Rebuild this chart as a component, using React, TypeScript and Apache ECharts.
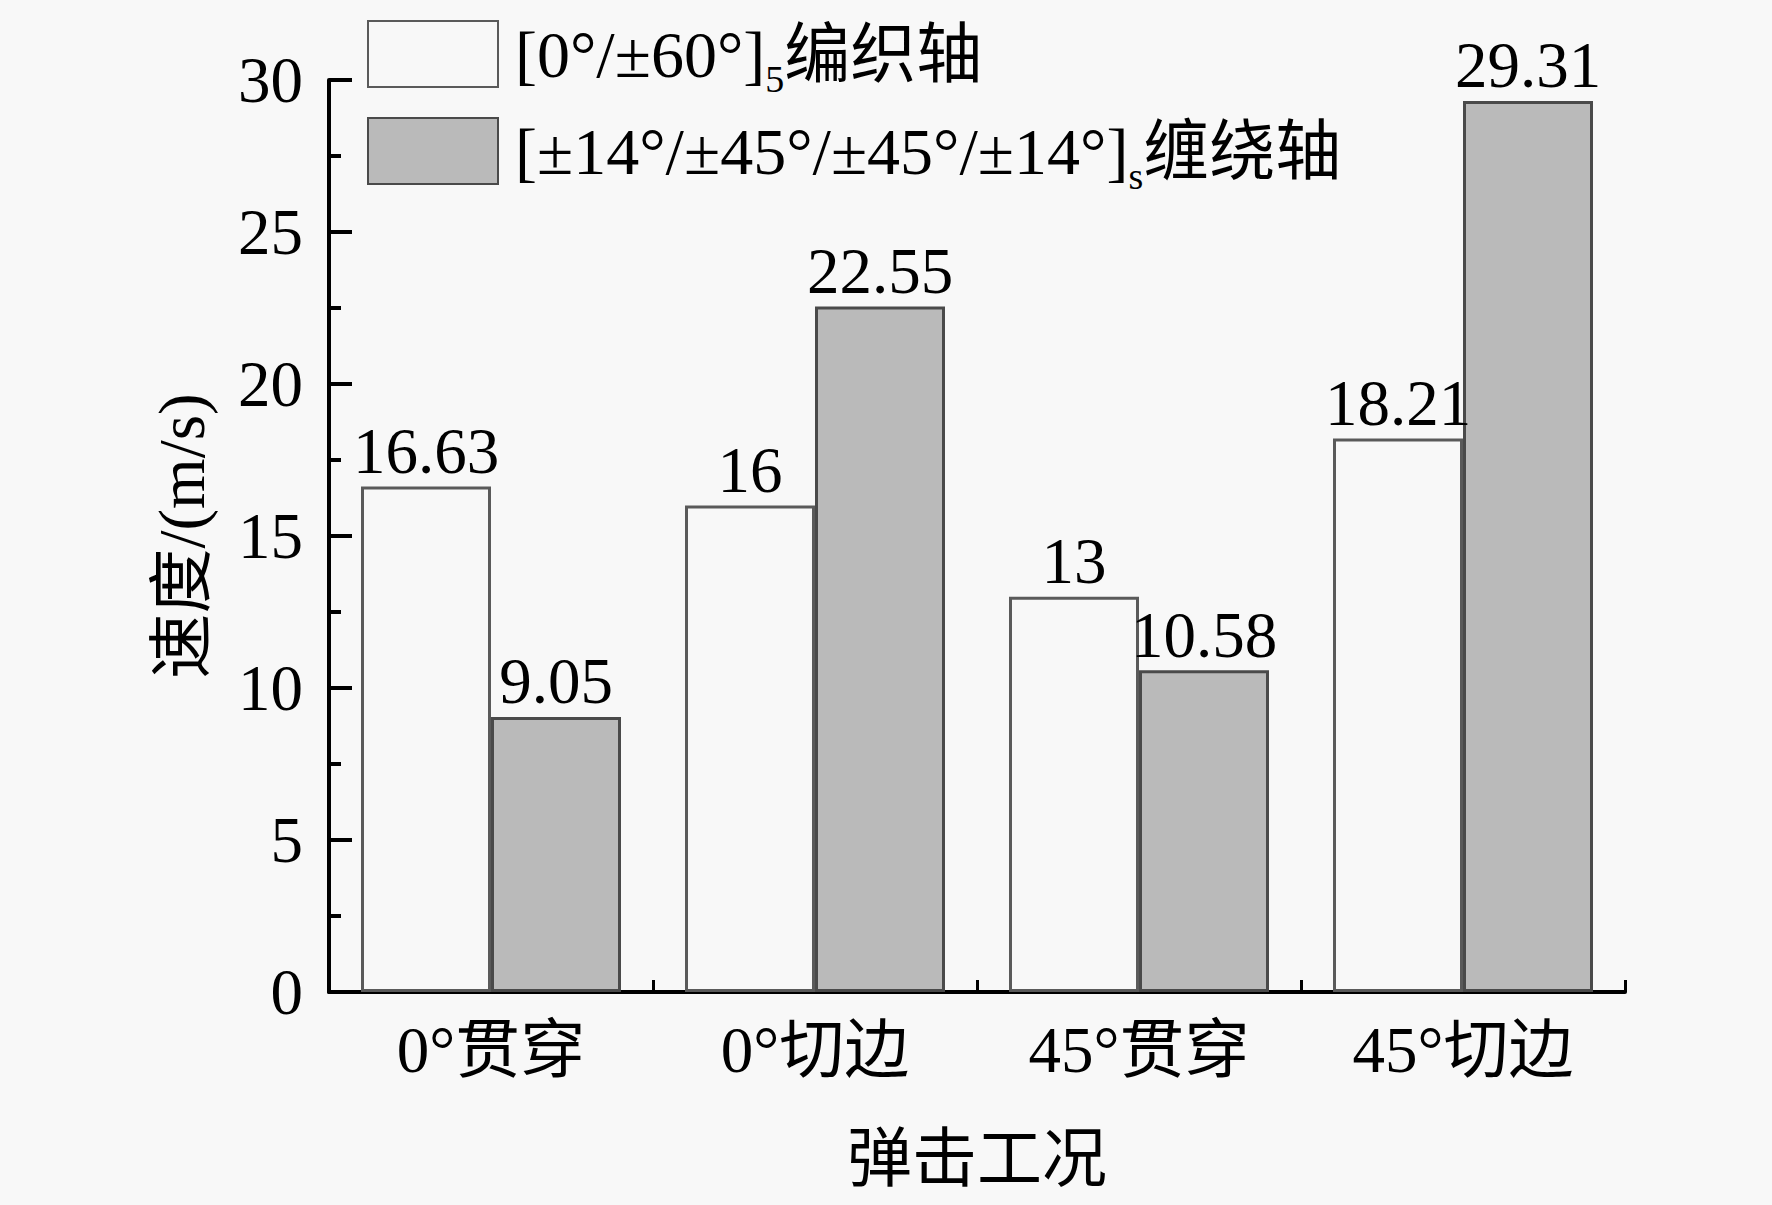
import * as echarts from 'echarts';
import { useEffect, useRef } from 'react';

const categories = ['0°贯穿', '0°切边', '45°贯穿', '45°切边'];
const braidedValues = [16.63, 16, 13, 18.21];
const woundValues = [9.05, 22.55, 10.58, 29.31];
const yTicks = { min: 0, max: 30, interval: 5 };

const FONT = '"Liberation Serif", "Times New Roman", "Noto Sans CJK SC", serif';
const FS = 65;
const LEGEND_FS = 66;

const legendRich: Record<string, string> = {
  braided: '{pad|}{a|[0°/±60°]}{sub|5}{a|编织轴}',
  wound: '{pad|}{a|[±14°/±45°/±45°/±14°]}{sub|s}{a|缠绕轴}'
};

export default function App() {
  const elRef = useRef<HTMLDivElement | null>(null);

  useEffect(() => {
    if (!elRef.current) return;
    const chart = echarts.init(elRef.current, undefined, { renderer: 'svg' });

    const barLabel = {
      show: true,
      position: 'top',
      distance: 3,
      color: '#000',
      fontSize: FS,
      fontFamily: FONT
    };

    chart.setOption({
      animation: false,
      backgroundColor: '#f8f8f8',
      textStyle: { fontFamily: FONT },
      grid: { left: 329, right: 147, top: 80, bottom: 213 },
      legend: {
        orient: 'vertical',
        left: 367,
        top: 20,
        padding: 0,
        itemWidth: 130,
        itemHeight: 66,
        itemGap: 19,
        icon: 'rect',
        data: ['braided', 'wound'],
        formatter: (name: string) => legendRich[name],
        textStyle: {
          color: '#000',
          fontSize: LEGEND_FS,
          fontFamily: FONT,
          rich: {
            pad: { width: 12 },
            a: { fontSize: LEGEND_FS, fontFamily: FONT, color: '#000', lineHeight: 68 },
            sub: {
              fontSize: 38,
              fontFamily: FONT,
              color: '#000',
              verticalAlign: 'bottom',
              lineHeight: 68,
              padding: [0, 0, -10, 0]
            }
          }
        }
      },
      xAxis: {
        type: 'category',
        data: categories,
        name: '弹击工况',
        nameLocation: 'middle',
        nameGap: 134,
        nameTextStyle: { color: '#000', fontSize: FS, fontFamily: FONT },
        axisLine: { lineStyle: { color: '#000', width: 4 } },
        axisTick: { show: true, inside: true, length: 12, lineStyle: { color: '#000', width: 3 } },
        axisLabel: { color: '#000', fontSize: FS, fontFamily: FONT, margin: 25 }
      },
      yAxis: {
        type: 'value',
        min: yTicks.min,
        max: yTicks.max,
        interval: yTicks.interval,
        name: '速度/(m/s)',
        nameLocation: 'middle',
        nameGap: 115,
        nameTextStyle: { color: '#000', fontSize: FS, fontFamily: FONT },
        axisLine: { show: true, lineStyle: { color: '#000', width: 4 } },
        axisTick: { show: true, inside: true, length: 23, lineStyle: { color: '#000', width: 4 } },
        minorTick: { show: true, splitNumber: 2, length: 12, lineStyle: { color: '#000', width: 4 } },
        axisLabel: { color: '#000', fontSize: FS, fontFamily: FONT, margin: 26 },
        splitLine: { show: false }
      },
      series: [
        {
          type: 'bar',
          name: 'braided',
          data: braidedValues,
          barWidth: 130,
          barGap: '0%',
          itemStyle: { color: '#f8f8f8', borderColor: '#5a5a5a', borderWidth: 3 },
          label: barLabel
        },
        {
          type: 'bar',
          name: 'wound',
          data: woundValues,
          barWidth: 130,
          barGap: '0%',
          itemStyle: { color: '#bababa', borderColor: '#4a4a4a', borderWidth: 3 },
          label: barLabel
        }
      ]
    });

    return () => chart.dispose();
  }, []);

  return (
    <div
      ref={elRef}
      style={{ position: 'absolute', left: 0, top: 0, width: 1772, height: 1205 }}
    />
  );
}
